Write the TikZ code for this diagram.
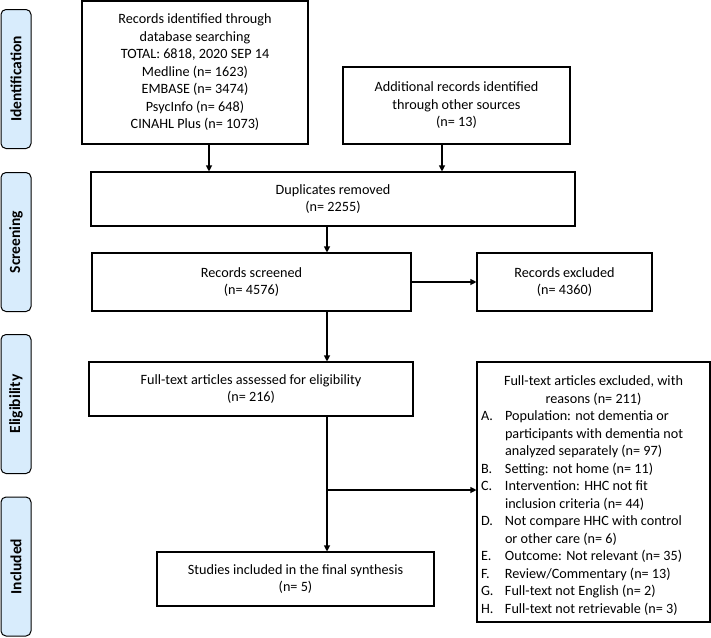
\documentclass[tikz,border=0pt]{standalone}
\usepackage{fontspec}
\setmainfont{Carlito}
\usetikzlibrary{arrows.meta}

\definecolor{stagefill}{RGB}{216,236,252}

\tikzset{
  box/.style={draw, line width=1.1pt, align=center, inner sep=0pt},
  stage/.style={draw, line width=1pt, rounded corners=5pt, fill=stagefill, rotate=90,
    minimum width=139pt, minimum height=30pt, inner sep=0pt,
    font=\fontsize{15.5}{18}\selectfont\bfseries},
  arr/.style={-{Triangle[length=6pt,width=6pt]}, line width=1.1pt}
}

\begin{document}
\begin{tikzpicture}[x=1pt, y=-1pt, font=\fontsize{14.2}{17.5}\selectfont]
\useasboundingbox (0,0) rectangle (711,637);

% stage labels on the left
\node[stage] (sid) at (16,79) {Identification};
\node[stage] (ssc) at (16,242) {Screening};
\node[stage] (sel) at (16,404) {Eligibility};
\node[stage] (sin) at (16,566.5) {Included};

% identification
\node[box, minimum width=226pt, minimum height=143pt] (db) at (195,72.5)
  {Records identified through\\database searching\\TOTAL: 6818, 2020 SEP 14\\Medline (n= 1623)\\EMBASE (n= 3474)\\PsycInfo (n= 648)\\CINAHL Plus (n= 1073)};
\node[box, minimum width=227pt, minimum height=77pt] (os) at (456.5,105.5)
  {Additional records identified\\through other sources\\(n= 13)};

% screening
\node[box, minimum width=484pt, minimum height=54pt] (dup) at (333,199)
  {Duplicates removed\\(n= 2255)};
\node[box, minimum width=319pt, minimum height=58pt] (scr) at (251.5,282)
  {Records screened\\(n= 4576)};
\node[box, minimum width=175pt, minimum height=58pt] (ex1) at (564.5,282)
  {Records excluded\\(n= 4360)};

% eligibility
\node[box, minimum width=233pt, minimum height=260pt] (ex2) at (593.5,492)
  {\raisebox{-4pt}[\height][\depth]{\begin{tabular}{@{}p{24pt}@{}l@{}}
   \multicolumn{2}{c}{\makebox[213pt]{Full-text articles excluded, with}}\\
   \multicolumn{2}{c}{reasons (n= 211)}\\
   A. & Population: not dementia or\\
    & participants with dementia not\\
    & analyzed separately (n= 97)\\
   B. & Setting: not home (n= 11)\\
   C. & Intervention: HHC not fit\\
    & inclusion criteria (n= 44)\\
   D. & Not compare HHC with control\\
    & or other care (n= 6)\\
   E. & Outcome: Not relevant (n= 35)\\
   F. & Review/Commentary (n= 13)\\
   G. & Full-text not English (n= 2)\\
   H. & Full-text not retrievable (n= 3)
   \end{tabular}}};
\node[box, minimum width=324pt, minimum height=54pt] (ft) at (251,389)
  {Full-text articles assessed for eligibility\\(n= 216)};

% included
\node[box, minimum width=277pt, minimum height=54pt] (inc) at (295.5,579)
  {Studies included in the final synthesis\\(n= 5)};

% connectors
\coordinate (dbx) at (209,0);
\coordinate (osx) at (442,0);
\coordinate (trunk) at (327,0);
\coordinate (fork) at (327,490);

\draw[arr] (db.south -| dbx) -- (dup.north -| dbx);
\draw[arr] (os.south -| osx) -- (dup.north -| osx);
\draw[arr] (dup.south -| trunk) -- (scr.north -| trunk);
\draw[arr] (scr.east) -- (ex1.west);
\draw[arr] (scr.south -| trunk) -- (ft.north -| trunk);
\draw[arr] (ft.south -| trunk) -- (inc.north -| trunk);
\draw[arr] (fork) -- (fork -| ex2.west);

\end{tikzpicture}
\end{document}
